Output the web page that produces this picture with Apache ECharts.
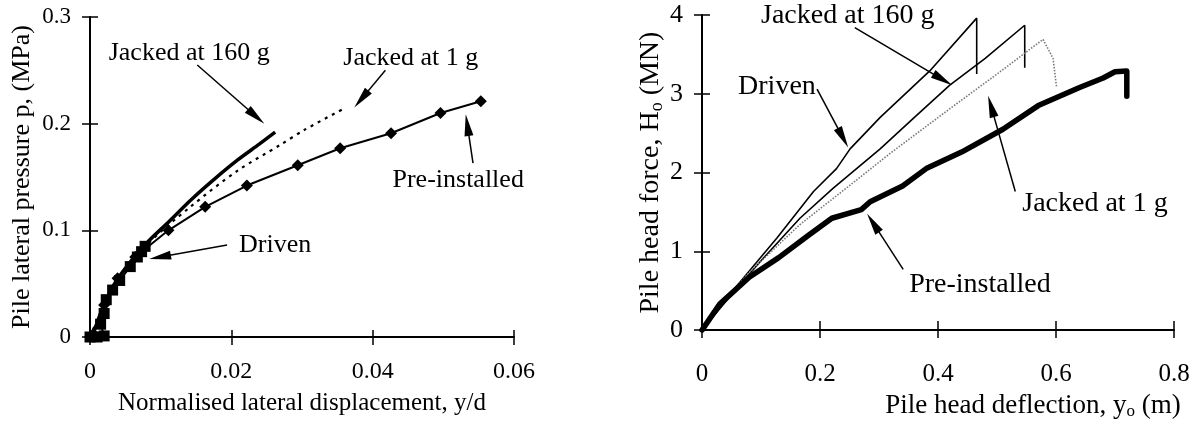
<!DOCTYPE html>
<html><head><meta charset="utf-8">
<script src="https://cdn.jsdelivr.net/npm/echarts@6/dist/echarts.min.js"></script>
<style>html,body{margin:0;padding:0;background:#fff}#c{width:1196px;height:425px}</style>
</head><body><div id="c"></div>
<script>
// ---------- Left panel: normalised displacement y/d vs lateral pressure p (MPa)
const leftXTicks = [0, 0.02, 0.04, 0.06];
const leftYTicks = [0, 0.1, 0.2, 0.3];
const leftJacked160 = [[0,0],[0.0005,0.005],[0.0015,0.022],[0.0032,0.047],[0.0054,0.068],[0.008,0.088],[0.0113,0.109],[0.0142,0.128],[0.0176,0.148],[0.0209,0.166],[0.024,0.181],[0.0262,0.192]];
const leftJacked1 = [[0,0],[0.0032,0.046],[0.008,0.086],[0.0142,0.122],[0.0209,0.156],[0.0269,0.180],[0.0303,0.194],[0.0359,0.214]];
const leftPreinstalled = [[0,0],[0.0005,0.003],[0.002,0.03],[0.0039,0.055],[0.0064,0.075],[0.0111,0.1],[0.0163,0.122],[0.0222,0.142],[0.0294,0.161],[0.0354,0.177],[0.0426,0.191],[0.0496,0.21],[0.0553,0.221]];
const leftDriven = [[0,0],[0.001,0],[0.002,0.001],[0.0015,0.012],[0.002,0.022],[0.0023,0.035],[0.0032,0.044],[0.0042,0.053],[0.0057,0.066],[0.0067,0.075],[0.0073,0.08],[0.0078,0.085]];

// ---------- Right panel: pile head deflection (m) vs pile head force (MN)
const rightXTicks = [0, 0.2, 0.4, 0.6, 0.8];
const rightYTicks = [0, 1, 2, 3, 4];
const rightDriven = [[0,0],[0.05,0.48],[0.127,1.17],[0.189,1.76],[0.228,2.05],[0.251,2.3],[0.302,2.7],[0.386,3.29],[0.4656,3.96],[0.4656,3.25]];
const rightJacked160 = [[0,0],[0.05,0.45],[0.1,0.88],[0.166,1.42],[0.222,1.8],[0.302,2.3],[0.36,2.7],[0.42,3.11],[0.48,3.45],[0.547,3.87],[0.547,3.33]];
const rightJacked1 = [[0,0],[0.04,0.4],[0.081,0.74],[0.166,1.34],[0.251,1.84],[0.32,2.25],[0.42,2.81],[0.5,3.25],[0.578,3.69],[0.595,3.45],[0.601,3.08]];
const rightPreinstalled = [[0,0],[0.03,0.33],[0.08,0.67],[0.13,0.92],[0.18,1.2],[0.22,1.42],[0.27,1.53],[0.285,1.63],[0.34,1.83],[0.38,2.05],[0.44,2.26],[0.51,2.55],[0.57,2.85],[0.64,3.08],[0.68,3.2],[0.70,3.28],[0.72,3.29],[0.72,2.97]];

const seriesNames = ['Jacked at 160 g', 'Jacked at 1 g', 'Pre-installed', 'Driven'];
const axisTitles = {
  leftX: 'Normalised lateral displacement, y/d',
  leftY: 'Pile lateral pressure p, (MPa)',
  rightX: 'Pile head deflection, y{s|o} (m)',
  rightY: 'Pile head force, H{s|o} (MN)'
};

const FONT = 'Liberation Serif';
const ink = '#000';
function sub(size) { return { s: { fontSize: size, fontFamily: FONT, color: ink, padding: [Math.round(size * 0.7), 0, 0, 0] } }; }
function txt(size, extra) { return Object.assign({ color: ink, fontFamily: FONT, fontSize: size }, extra || {}); }

function valAxis(grid, ticks, pos, opts) {
  const base = {
    type: 'value', gridIndex: grid, position: pos,
    min: ticks[0], max: ticks[ticks.length - 1], interval: ticks[1] - ticks[0],
    splitLine: { show: false },
    axisLine: { show: true, onZero: false, lineStyle: { color: ink, width: 2 } },
    axisTick: { show: true, inside: false, length: 8, lineStyle: { color: ink, width: 1.5 } }
  };
  return Object.assign(base, opts || {});
}
function innerAxis(grid, ticks, pos, len) {
  return {
    type: 'value', gridIndex: grid, position: pos,
    min: ticks[0], max: ticks[ticks.length - 1], interval: ticks[1] - ticks[0],
    splitLine: { show: false },
    axisLine: { show: false, onZero: false },
    axisTick: { show: true, inside: true, length: len, lineStyle: { color: ink, width: 1.5 } },
    axisLabel: { show: false }
  };
}

function arrow(from, to) {
  return [
    { coord: from, symbol: 'none' },
    { coord: to, symbol: 'triangle', symbolSize: [9, 22] }
  ];
}
function textMark(coord, text) { return { coord: coord, name: text, value: 0 }; }
const markLineBase = { silent: true, animation: false, lineStyle: { color: ink, width: 1.5, type: 'solid' }, label: { show: false }, emphasis: { disabled: true } };
function markPointBase(size) {
  return { silent: true, animation: false, symbol: 'circle', symbolSize: 1, itemStyle: { color: 'rgba(0,0,0,0)' },
    label: txt(size, { show: true, position: 'inside', formatter: p => p.name }) };
}

const option = {
  animation: false,
  backgroundColor: '#fff',
  grid: [
    { left: 90, top: 17, width: 424, height: 320 },
    { left: 702, top: 15, width: 472, height: 318 }
  ],
  xAxis: [
    valAxis(0, leftXTicks, 'bottom', { name: axisTitles.leftX, nameLocation: 'middle', nameGap: 54,
      nameTextStyle: txt(25), axisLabel: txt(24, { margin: 23 }) }),
    innerAxis(0, leftXTicks, 'bottom', 7),
    valAxis(1, rightXTicks, 'bottom', { name: axisTitles.rightX, nameLocation: 'middle', nameGap: 53,
      nameTextStyle: txt(27, { rich: sub(17), padding: [0, 0, 0, 190] }), axisLabel: txt(25, { margin: 32 }) }),
    innerAxis(1, rightXTicks, 'bottom', 9)
  ],
  yAxis: [
    valAxis(0, leftYTicks, 'left', { name: axisTitles.leftY, nameLocation: 'middle', nameGap: 55,
      nameTextStyle: txt(26), axisLabel: txt(23, { margin: 19 }) }),
    innerAxis(0, leftYTicks, 'left', 8),
    valAxis(1, rightYTicks, 'left', { name: axisTitles.rightY, nameLocation: 'middle', nameGap: 28,
      nameTextStyle: txt(28, { rich: sub(18) }), axisLabel: txt(26, { margin: 19 }) }),
    innerAxis(1, rightYTicks, 'left', 8)
  ],
  series: [
    // left panel
    { name: seriesNames[0], type: 'line', xAxisIndex: 0, yAxisIndex: 0, data: leftJacked160, symbol: 'none', smooth: 0.3,
      lineStyle: { color: ink, width: 3.5 },
      markLine: Object.assign({}, markLineBase, { data: [
        arrow([0.01518, 0.255], [0.0235, 0.2067]),
        arrow([0.0418, 0.250], [0.0384, 0.223]),
        arrow([0.0542, 0.163], [0.0534, 0.1987]),
        arrow([0.0194, 0.0862], [0.0099, 0.075])
      ] }),
      markPoint: Object.assign(markPointBase(26), { data: [
        textMark([0.01404, 0.266], seriesNames[0]),
        textMark([0.0454, 0.2615], seriesNames[1]),
        textMark([0.0521, 0.147], seriesNames[2]),
        textMark([0.0262, 0.0862], seriesNames[3])
      ] })
    },
    { name: seriesNames[1], type: 'line', xAxisIndex: 0, yAxisIndex: 0, data: leftJacked1, symbol: 'none', smooth: 0.3,
      lineStyle: { color: ink, width: 2.2, type: [3, 5] } },
    { name: seriesNames[2], type: 'line', xAxisIndex: 0, yAxisIndex: 0, data: leftPreinstalled, symbol: 'diamond', symbolSize: 12, showAllSymbol: true,
      itemStyle: { color: ink }, lineStyle: { color: ink, width: 2 } },
    { name: seriesNames[3], type: 'line', xAxisIndex: 0, yAxisIndex: 0, data: leftDriven, symbol: 'rect', symbolSize: 11, showAllSymbol: true,
      itemStyle: { color: ink }, lineStyle: { color: ink, width: 2 } },
    // right panel
    { name: seriesNames[3], type: 'line', xAxisIndex: 2, yAxisIndex: 2, data: rightDriven, symbol: 'none',
      lineStyle: { color: ink, width: 1.6 },
      markLine: Object.assign({}, markLineBase, { data: [
        arrow([0.259, 3.84], [0.408, 3.18]),
        arrow([0.195, 3.06], [0.239, 2.44]),
        arrow([0.531, 1.76], [0.49, 2.84]),
        arrow([0.341, 0.77], [0.29, 1.36])
      ] }),
      markPoint: Object.assign(markPointBase(28), { data: [
        textMark([0.247, 3.99], seriesNames[0]),
        textMark([0.127, 3.09], seriesNames[3]),
        textMark([0.666, 1.61], seriesNames[1]),
        textMark([0.471, 0.58], seriesNames[2])
      ] })
    },
    { name: seriesNames[0], type: 'line', xAxisIndex: 2, yAxisIndex: 2, data: rightJacked160, symbol: 'none',
      lineStyle: { color: ink, width: 1.6 } },
    { name: seriesNames[1], type: 'line', xAxisIndex: 2, yAxisIndex: 2, data: rightJacked1, symbol: 'none',
      lineStyle: { color: '#777', width: 1.6, type: [1.5, 1.5] } },
    { name: seriesNames[2], type: 'line', xAxisIndex: 2, yAxisIndex: 2, data: rightPreinstalled, symbol: 'none',
      lineStyle: { color: ink, width: 5.5, join: 'round', cap: 'round' } }
  ]
};

const chart = echarts.init(document.getElementById('c'), null, { renderer: 'canvas' });
chart.setOption(option);
</script>
</body></html>
